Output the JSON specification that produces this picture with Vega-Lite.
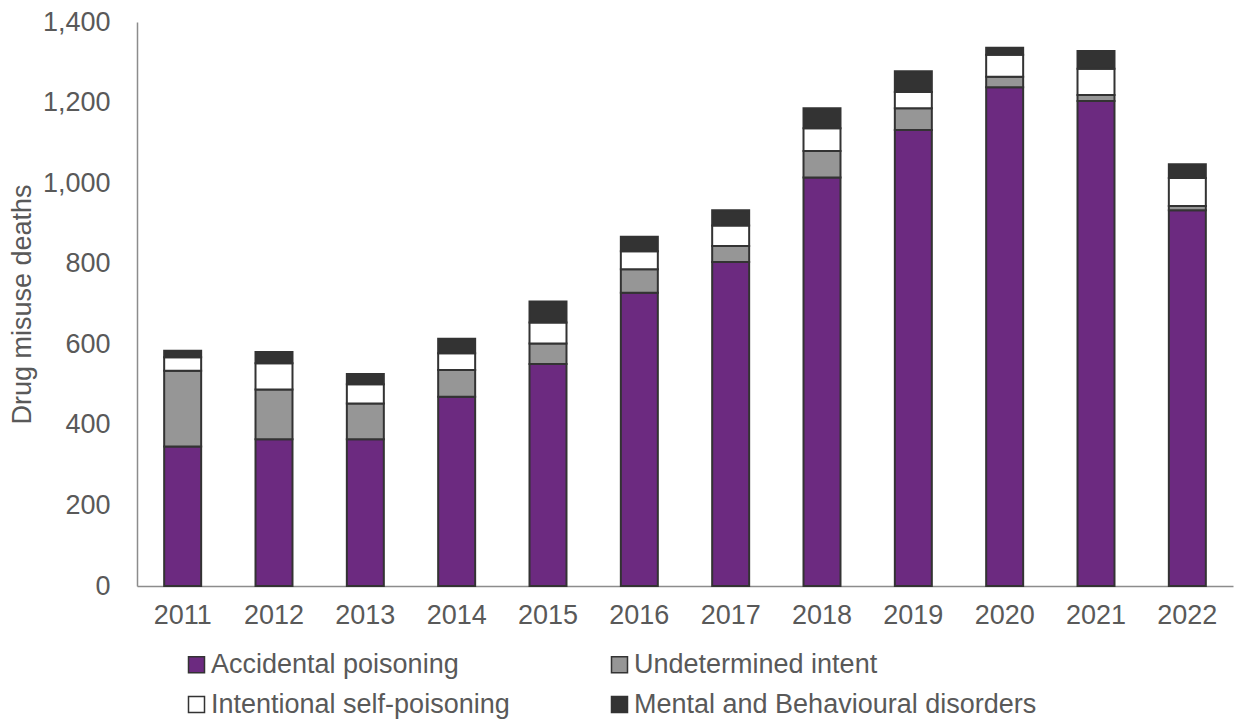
{
  "$schema": "https://vega.github.io/schema/vega-lite/v6.json",
  "autosize": "none",
  "width": 1096,
  "height": 564,
  "padding": {"left": 137, "top": 22, "right": 2, "bottom": 134},
  "background": "white",
  "config": {
    "view": {"stroke": null},
    "font": "Liberation Sans"
  },
  "data": {
    "values": [
      {"year": "2011", "type": "Accidental poisoning", "deaths": 346},
      {"year": "2011", "type": "Undetermined intent", "deaths": 188},
      {"year": "2011", "type": "Intentional self-poisoning", "deaths": 34},
      {"year": "2011", "type": "Mental and Behavioural disorders", "deaths": 16},
      {"year": "2012", "type": "Accidental poisoning", "deaths": 364},
      {"year": "2012", "type": "Undetermined intent", "deaths": 124},
      {"year": "2012", "type": "Intentional self-poisoning", "deaths": 65},
      {"year": "2012", "type": "Mental and Behavioural disorders", "deaths": 28},
      {"year": "2013", "type": "Accidental poisoning", "deaths": 364},
      {"year": "2013", "type": "Undetermined intent", "deaths": 89},
      {"year": "2013", "type": "Intentional self-poisoning", "deaths": 48},
      {"year": "2013", "type": "Mental and Behavioural disorders", "deaths": 25},
      {"year": "2014", "type": "Accidental poisoning", "deaths": 470},
      {"year": "2014", "type": "Undetermined intent", "deaths": 66},
      {"year": "2014", "type": "Intentional self-poisoning", "deaths": 42},
      {"year": "2014", "type": "Mental and Behavioural disorders", "deaths": 36},
      {"year": "2015", "type": "Accidental poisoning", "deaths": 551},
      {"year": "2015", "type": "Undetermined intent", "deaths": 51},
      {"year": "2015", "type": "Intentional self-poisoning", "deaths": 52},
      {"year": "2015", "type": "Mental and Behavioural disorders", "deaths": 52},
      {"year": "2016", "type": "Accidental poisoning", "deaths": 728},
      {"year": "2016", "type": "Undetermined intent", "deaths": 58},
      {"year": "2016", "type": "Intentional self-poisoning", "deaths": 45},
      {"year": "2016", "type": "Mental and Behavioural disorders", "deaths": 36},
      {"year": "2017", "type": "Accidental poisoning", "deaths": 804},
      {"year": "2017", "type": "Undetermined intent", "deaths": 40},
      {"year": "2017", "type": "Intentional self-poisoning", "deaths": 51},
      {"year": "2017", "type": "Mental and Behavioural disorders", "deaths": 38},
      {"year": "2018", "type": "Accidental poisoning", "deaths": 1014},
      {"year": "2018", "type": "Undetermined intent", "deaths": 66},
      {"year": "2018", "type": "Intentional self-poisoning", "deaths": 56},
      {"year": "2018", "type": "Mental and Behavioural disorders", "deaths": 50},
      {"year": "2019", "type": "Accidental poisoning", "deaths": 1132},
      {"year": "2019", "type": "Undetermined intent", "deaths": 54},
      {"year": "2019", "type": "Intentional self-poisoning", "deaths": 40},
      {"year": "2019", "type": "Mental and Behavioural disorders", "deaths": 52},
      {"year": "2020", "type": "Accidental poisoning", "deaths": 1238},
      {"year": "2020", "type": "Undetermined intent", "deaths": 26},
      {"year": "2020", "type": "Intentional self-poisoning", "deaths": 55},
      {"year": "2020", "type": "Mental and Behavioural disorders", "deaths": 17},
      {"year": "2021", "type": "Accidental poisoning", "deaths": 1204},
      {"year": "2021", "type": "Undetermined intent", "deaths": 15},
      {"year": "2021", "type": "Intentional self-poisoning", "deaths": 65},
      {"year": "2021", "type": "Mental and Behavioural disorders", "deaths": 44},
      {"year": "2022", "type": "Accidental poisoning", "deaths": 933},
      {"year": "2022", "type": "Undetermined intent", "deaths": 10},
      {"year": "2022", "type": "Intentional self-poisoning", "deaths": 70},
      {"year": "2022", "type": "Mental and Behavioural disorders", "deaths": 34}
    ]
  },
  "transform": [
    {"calculate": "indexof(['Accidental poisoning','Undetermined intent','Intentional self-poisoning','Mental and Behavioural disorders'], datum.type)", "as": "stackOrder"}
  ],
  "mark": {"type": "bar", "stroke": "#333333", "strokeWidth": 2},
  "encoding": {
    "x": {
      "field": "year",
      "type": "ordinal",
      "scale": {"paddingInner": 0.595, "paddingOuter": 0.2975},
      "axis": {
        "title": null,
        "labelAngle": 0,
        "labelFontSize": 27,
        "labelColor": "#595959",
        "labelPadding": 16,
        "ticks": false,
        "domainColor": "#8c8c8c",
        "domainWidth": 1.5
      }
    },
    "y": {
      "field": "deaths",
      "type": "quantitative",
      "stack": "zero",
      "scale": {"domain": [0, 1400]},
      "axis": {
        "title": "Drug misuse deaths",
        "titleFontSize": 27,
        "titleFontWeight": "normal",
        "titleColor": "#595959",
        "titlePadding": 6,
        "values": [0, 200, 400, 600, 800, 1000, 1200, 1400],
        "format": ",d",
        "labelFontSize": 27,
        "labelColor": "#595959",
        "labelPadding": 27,
        "ticks": false,
        "grid": false,
        "domainColor": "#8c8c8c",
        "domainWidth": 1.5
      }
    },
    "color": {
      "field": "type",
      "type": "nominal",
      "scale": {
        "domain": ["Accidental poisoning", "Undetermined intent", "Intentional self-poisoning", "Mental and Behavioural disorders"],
        "range": ["#6c2a80", "#969696", "#ffffff", "#333333"]
      },
      "legend": {
        "title": null,
        "orient": "none",
        "legendX": 46,
        "legendY": 629,
        "direction": "horizontal",
        "columns": 2,
        "columnPadding": 96,
        "rowPadding": 12,
        "symbolType": "square",
        "symbolSize": 256,
        "symbolStrokeColor": "#333333",
        "symbolStrokeWidth": 1.5,
        "symbolOpacity": 1,
        "labelFontSize": 27,
        "labelColor": "#595959",
        "labelOffset": 1,
        "labelLimit": 600
      }
    },
    "order": {"field": "stackOrder", "type": "quantitative", "sort": "ascending"}
  }
}
